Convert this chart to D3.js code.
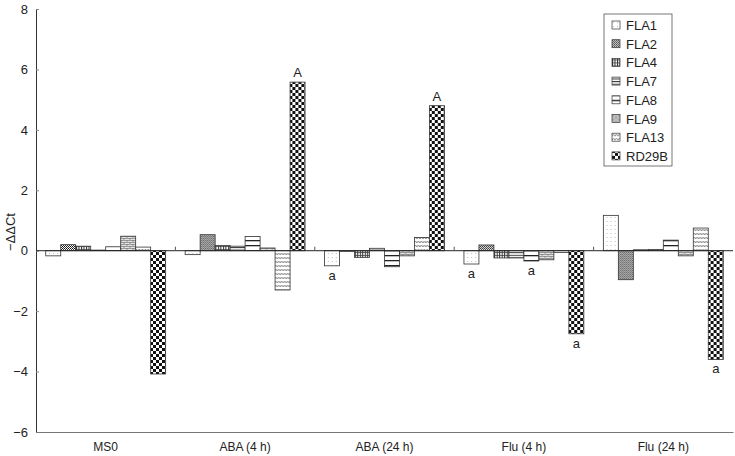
<!DOCTYPE html>
<html>
<head>
<meta charset="utf-8">
<script src="https://cdn.jsdelivr.net/npm/d3@7"></script>
<style>
  body { margin: 0; background: #fff; }
  svg { font-family: "Liberation Sans", Arial, Helvetica, sans-serif; }
</style>
</head>
<body>
<div id="chart"></div>
<script>
// data
var groups = ["MS0", "ABA (4 h)", "ABA (24 h)", "Flu (4 h)", "Flu (24 h)"];
var genes = ["FLA1", "FLA2", "FLA4", "FLA7", "FLA8", "FLA9", "FLA13", "RD29B"];
var fla1  = [-0.17, -0.13, -0.50, -0.44,  1.17];
var fla2  = [ 0.20,  0.53, -0.02,  0.19, -0.96];
var fla4  = [ 0.15,  0.17, -0.22, -0.24,  0.03];
var fla7  = [ 0.02,  0.15,  0.08, -0.24,  0.04];
var fla8  = [ 0.13,  0.47, -0.53, -0.34,  0.35];
var fla9  = [ 0.48,  0.09, -0.17, -0.30, -0.17];
var fla13 = [ 0.12, -1.30,  0.44, -0.06,  0.75];
var rd29b = [-4.08,  5.58,  4.80, -2.75, -3.60];
var series = [fla1, fla2, fla4, fla7, fla8, fla9, fla13, rd29b];
// significance letters (per gene, per group)
var letters = [
  ["", "", "a", "a", ""],
  ["", "", "", "", ""],
  ["", "", "", "", ""],
  ["", "", "", "", ""],
  ["", "", "", "a", ""],
  ["", "", "", "", ""],
  ["", "", "", "", ""],
  ["", "A", "A", "a", "a"]
];
var yTicks = [-6, -4, -2, 0, 2, 4, 6, 8];

var W = 735, H = 456;
var margin = {left: 36, top: 9, right: 2, bottom: 24};

var svg = d3.select("#chart").append("svg")
    .attr("width", W)
    .attr("height", H);

var defs = svg.append("defs");

// ---- fill patterns ----
function pat(id, w, h) {
    var p = defs.append("pattern")
        .attr("id", id)
        .attr("patternUnits", "userSpaceOnUse")
        .attr("width", w).attr("height", h);
    p.append("rect").attr("width", w).attr("height", h).attr("fill", "#fff");
    return p;
}
// FLA1 sparse dots
var p = pat("p0", 4, 4);
p.append("rect").attr("x", 1).attr("y", 1).attr("width", 0.8).attr("height", 0.8).attr("fill", "#999");
// FLA2 fine dark stipple
p = pat("p1", 2, 2);
p.append("rect").attr("x", 0).attr("y", 0).attr("width", 1).attr("height", 1).attr("fill", "#111");
p.append("rect").attr("x", 1).attr("y", 1).attr("width", 1).attr("height", 1).attr("fill", "#333");
// FLA4 grid
p = pat("p2", 2.5, 3);
p.append("rect").attr("x", 0).attr("y", 0).attr("width", 1).attr("height", 3).attr("fill", "#222");
p.append("rect").attr("x", 0).attr("y", 0).attr("width", 2.5).attr("height", 0.8).attr("fill", "#444");
// FLA7 dense horizontal lines
p = pat("p3", 4, 2.6);
p.append("rect").attr("x", 0).attr("y", 0).attr("width", 4).attr("height", 1).attr("fill", "#333");
// FLA8 sparse horizontal lines
p = pat("p4", 4, 5);
p.append("rect").attr("x", 0).attr("y", 0).attr("width", 4).attr("height", 1.3).attr("fill", "#222");
// FLA9 brick
p = pat("p5", 6, 4);
p.append("rect").attr("width", 6).attr("height", 4).attr("fill", "#e4e4e4");
p.append("path").attr("d", "M0,0.5H6M0,2.5H6M1,0V2M4,2V4").attr("stroke", "#666").attr("stroke-width", 0.6);
// FLA13 zigzag
p = pat("p6", 6, 4);
p.append("path").attr("d", "M0,3L1.5,1L3,3L4.5,1L6,3").attr("fill", "none").attr("stroke", "#666").attr("stroke-width", 0.8);
// RD29B checkerboard
p = pat("p7", 6, 6);
p.append("rect").attr("x", 0).attr("y", 0).attr("width", 3).attr("height", 3).attr("fill", "#111");
p.append("rect").attr("x", 3).attr("y", 3).attr("width", 3).attr("height", 3).attr("fill", "#111");

// ---- scales ----
var x0 = d3.scaleBand()
    .domain(groups)
    .range([margin.left, W - margin.right])
    .padding(0);

var x1 = d3.scaleBand()
    .domain(genes)
    .range([0, x0.bandwidth()])
    .paddingInner(0)
    .paddingOuter(0.65);

var y = d3.scaleLinear()
    .domain([-6, 8])
    .range([432, margin.top]);

// ---- bars ----
var gGroups = svg.selectAll(".grp")
    .data(groups)
    .enter().append("g")
    .attr("class", "grp")
    .attr("transform", function(d) { return "translate(" + x0(d) + ",0)"; });

gGroups.selectAll("rect")
    .data(function(d, gi) {
        return genes.map(function(g, i) {
            return {gene: g, idx: i, value: series[i][gi], letter: letters[i][gi]};
        });
    })
    .enter().append("rect")
    .attr("x", function(d) { return x1(d.gene); })
    .attr("y", function(d) { return y(Math.max(0, d.value)); })
    .attr("width", x1.bandwidth())
    .attr("height", function(d) { return Math.abs(y(d.value) - y(0)); })
    .attr("fill", function(d) { return "url(#p" + d.idx + ")"; })
    .attr("stroke", "#333")
    .attr("stroke-width", 0.8);

gGroups.selectAll("text.sig")
    .data(function(d, gi) {
        return genes.map(function(g, i) {
            return {gene: g, value: series[i][gi], letter: letters[i][gi]};
        }).filter(function(d) { return d.letter != ""; });
    })
    .enter().append("text")
    .attr("class", "sig")
    .attr("x", function(d) { return x1(d.gene) + x1.bandwidth() / 2; })
    .attr("y", function(d) { return d.value > 0 ? y(d.value) - 5 : y(d.value) + 14; })
    .attr("text-anchor", "middle")
    .style("font-size", "13px")
    .attr("fill", "#222")
    .text(function(d) { return d.letter; });

// ---- axes ----
var yAxis = d3.axisLeft(y)
    .tickValues(yTicks)
    .tickFormat(function(d) { return d < 0 ? "\u2212" + Math.abs(d) : d; })
    .tickSizeInner(-3)
    .tickSizeOuter(0)
    .tickPadding(8);

var gy = svg.append("g")
    .attr("transform", "translate(" + margin.left + ",0)")
    .call(yAxis);
gy.selectAll("text").style("font-size", "13px").attr("fill", "#222");
gy.selectAll("line").attr("stroke", "#888");
gy.select(".domain").attr("stroke", "#333");

var xAxis = d3.axisBottom(x0).tickSize(0).tickPadding(10);
var gx = svg.append("g")
    .attr("transform", "translate(0," + y(-6) + ")")
    .call(xAxis);
gx.selectAll("text").style("font-size", "12px").attr("fill", "#222");
gx.select(".domain").attr("stroke", "#777");

// zero line with group separators
svg.append("line")
    .attr("x1", margin.left).attr("x2", W - margin.right)
    .attr("y1", y(0)).attr("y2", y(0))
    .attr("stroke", "#222").attr("stroke-width", 1);

svg.selectAll(".sep")
    .data(groups.slice(1))
    .enter().append("line")
    .attr("class", "sep")
    .attr("x1", function(d) { return x0(d); })
    .attr("x2", function(d) { return x0(d); })
    .attr("y1", y(0)).attr("y2", y(0) - 4)
    .attr("stroke", "#555");

// y label
svg.append("text")
    .attr("transform", "translate(15,232) rotate(-90)")
    .attr("text-anchor", "middle")
    .style("font-size", "13px")
    .attr("fill", "#222")
    .text("\u2212\u0394\u0394Ct");

// ---- legend ----
var legend = svg.append("g").attr("transform", "translate(604,14)");
legend.append("rect")
    .attr("width", 68).attr("height", 152)
    .attr("fill", "#fff").attr("stroke", "#555").attr("stroke-width", 0.8);

var items = legend.selectAll(".item")
    .data(genes)
    .enter().append("g")
    .attr("class", "item")
    .attr("transform", function(d, i) { return "translate(8," + (11 + i * 18.7) + ")"; });

items.append("rect")
    .attr("x", 0).attr("y", -4)
    .attr("width", 8).attr("height", 8)
    .attr("fill", function(d, i) { return "url(#p" + i + ")"; })
    .attr("stroke", "#333").attr("stroke-width", 0.7);

items.append("text")
    .attr("x", 14).attr("y", 5)
    .style("font-size", "13px")
    .attr("fill", "#222")
    .text(function(d) { return d; });
</script>
</body>
</html>
